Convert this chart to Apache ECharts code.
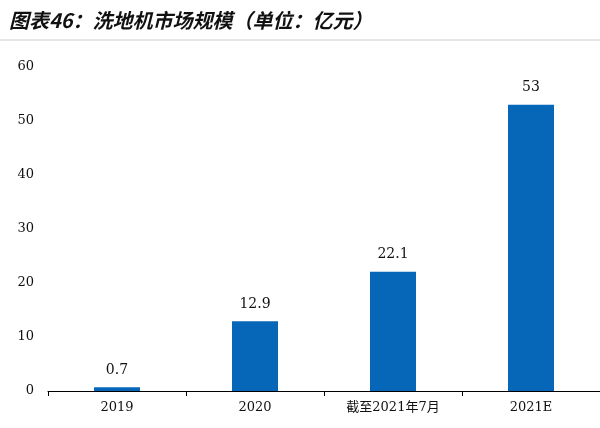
<!DOCTYPE html>
<html><head><meta charset="utf-8">
<script src="https://cdn.jsdelivr.net/npm/echarts@6/dist/echarts.min.js"></script>
<style>body{margin:0}#main{width:600px;height:428px}</style>
</head><body><div id="main"></div>
<script>
var categories = ['2019', '2020', '截至2021年7月', '2021E'];
var values = [0.7, 12.9, 22.1, 53];
var labels = ['0.7', '12.9', '22.1', '53'];

var chart = echarts.init(document.getElementById('main'));
chart.setOption({
    animation: false,
    title: {
        text: '图表46：洗地机市场规模（单位：亿元）',
        left: 4, top: 5,
        textStyle: {fontFamily: 'Noto Sans CJK SC', fontSize: 20, fontWeight: 'bold', fontStyle: 'italic', color: '#111'}
    },
    graphic: [{type: 'line', shape: {x1: 0, y1: 40, x2: 600, y2: 40}, style: {stroke: '#ccc', lineWidth: 1}}],
    grid: {left: 48, right: 0, top: 67, bottom: 37},
    xAxis: {
        type: 'category', data: categories,
        axisLine: {lineStyle: {color: '#000'}},
        axisTick: {show: true, alignWithLabel: false, lineStyle: {color: '#000'}},
        axisLabel: {color: '#111', fontFamily: 'DejaVu Serif, Noto Sans CJK SC', fontSize: 13, margin: 10}
    },
    yAxis: {
        type: 'value', min: 0, max: 60, interval: 10,
        splitLine: {show: false}, axisLine: {show: false}, axisTick: {show: false},
        axisLabel: {color: '#111', fontFamily: 'DejaVu Serif', fontSize: 13, margin: 14}
    },
    series: [{
        type: 'bar', data: values, barWidth: 46,
        itemStyle: {color: '#0666b8'},
        label: {show: true, position: 'top', distance: 10, color: '#111', fontFamily: 'DejaVu Serif', fontSize: 14,
            formatter: function (p) { return labels[p.dataIndex]; }}
    }]
});
</script></body></html>
